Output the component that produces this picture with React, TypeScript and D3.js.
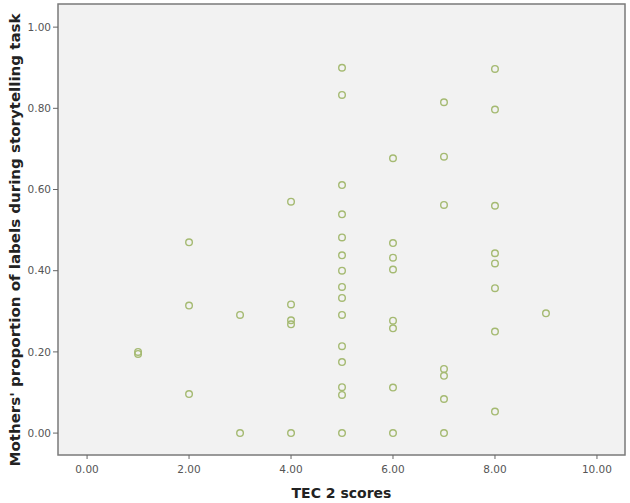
import React, { useLayoutEffect } from "react";
import * as d3 from "d3";

const tecScores = [
  1, 1,
  2, 2, 2,
  3, 3,
  4, 4, 4, 4, 4,
  5, 5, 5, 5, 5, 5, 5, 5, 5, 5, 5, 5, 5, 5, 5,
  6, 6, 6, 6, 6, 6, 6, 6,
  7, 7, 7, 7, 7, 7, 7,
  8, 8, 8, 8, 8, 8, 8, 8,
  9,
];

const labelProportions = [
  0.2, 0.195,
  0.47, 0.314, 0.096,
  0.291, 0.0,
  0.57, 0.317, 0.278, 0.268, 0.0,
  0.9, 0.833, 0.611, 0.539, 0.482, 0.438, 0.4, 0.36, 0.333, 0.291, 0.214, 0.175, 0.113, 0.094, 0.0,
  0.677, 0.468, 0.432, 0.403, 0.277, 0.258, 0.112, 0.0,
  0.815, 0.681, 0.562, 0.158, 0.141, 0.084, 0.0,
  0.897, 0.797, 0.56, 0.443, 0.418, 0.357, 0.25, 0.053,
  0.295,
];

const xTicks = [0, 2, 4, 6, 8, 10];
const yTicks = [0, 0.2, 0.4, 0.6, 0.8, 1.0];

const xTitle = "TEC 2 scores";
const yTitle = "Mothers' proportion of labels during storytelling task";

const W = 630;
const H = 503;
const plotLeft = 58;
const plotRight = 625;
const plotTop = 4;
const plotBottom = 455;

export default function App() {
  useLayoutEffect(() => {
    document.body.style.margin = "0";
  }, []);

  const x = d3.scaleLinear().domain([-0.57, 10.55]).range([plotLeft, plotRight]);
  const y = d3.scaleLinear().domain([-0.054, 1.057]).range([plotBottom, plotTop]);
  const fmt = d3.format(".2f");
  const font = "'DejaVu Sans', sans-serif";

  return (
    <svg width={W} height={H} style={{ display: "block", background: "#ffffff" }}>
      <rect
        x={plotLeft}
        y={plotTop}
        width={plotRight - plotLeft}
        height={plotBottom - plotTop}
        fill="#f2f2f2"
        stroke="#7a7a7a"
        strokeWidth={1.5}
      />
      {yTicks.map((t) => (
        <g key={"y" + t}>
          <line x1={plotLeft - 5} x2={plotLeft} y1={y(t)} y2={y(t)} stroke="#666" strokeWidth={1} />
          <text
            x={plotLeft - 7}
            y={y(t)}
            dy="0.35em"
            textAnchor="end"
            fontFamily={font}
            fontSize={10.5}
            fill="#555"
          >
            {fmt(t)}
          </text>
        </g>
      ))}
      {xTicks.map((t) => (
        <g key={"x" + t}>
          <line x1={x(t)} x2={x(t)} y1={plotBottom} y2={plotBottom + 4} stroke="#666" strokeWidth={1} />
          <text
            x={x(t)}
            y={plotBottom + 18}
            textAnchor="middle"
            fontFamily={font}
            fontSize={10.5}
            fill="#555"
          >
            {fmt(t)}
          </text>
        </g>
      ))}
      {tecScores.map((s, i) => (
        <circle
          key={"p" + i}
          cx={x(s)}
          cy={y(labelProportions[i])}
          r={3.3}
          fill="none"
          stroke="#a5ba72"
          strokeWidth={1.4}
        />
      ))}
      <text
        x={(plotLeft + plotRight) / 2}
        y={498}
        textAnchor="middle"
        fontFamily={font}
        fontWeight="bold"
        fontSize={14}
        fill="#222"
      >
        {xTitle}
      </text>
      <text
        transform={`translate(20, 240) rotate(-90)`}
        textAnchor="middle"
        fontFamily={font}
        fontWeight="bold"
        fontSize={14}
        fill="#222"
        textLength={453}
        lengthAdjust="spacingAndGlyphs"
      >
        {yTitle}
      </text>
    </svg>
  );
}
